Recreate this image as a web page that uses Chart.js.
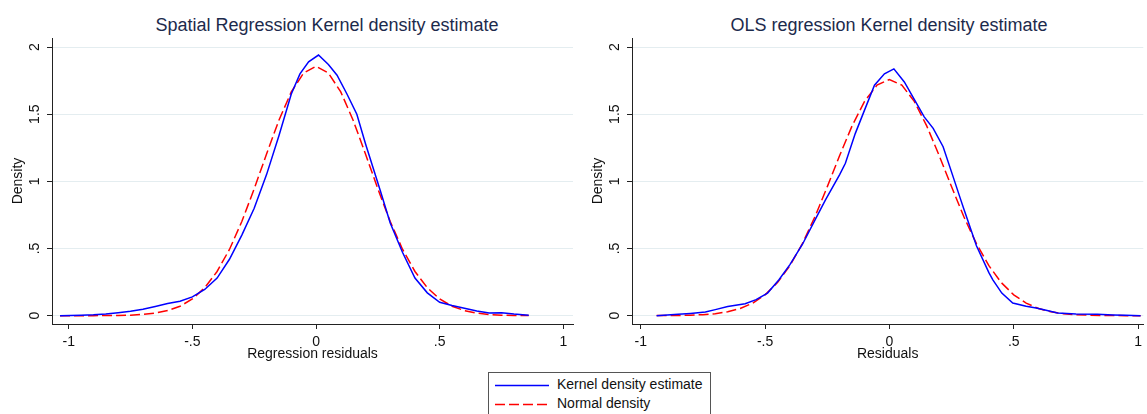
<!DOCTYPE html>
<html>
<head>
<meta charset="utf-8">
<script src="https://cdn.jsdelivr.net/npm/chart.js@4.4.0/dist/chart.umd.min.js"></script>
<style>
  body { margin: 0; background: #fff; width: 1147px; height: 414px; overflow: hidden; position: relative;
         font-family: "Liberation Sans", Arial, sans-serif; }
  canvas { position: absolute; top: 0; }
  #chartLeft { left: 0; }
  #chartRight { left: 580px; }
  .title { position: absolute; top: 15px; font-size: 18px; color: #1c2a4c; white-space: nowrap; transform: translateX(-50%); }
  #legend { position: absolute; left: 488px; top: 372px; width: 223px; height: 60px; border: 1px solid #555; box-sizing: border-box; }
  #legend svg { position: absolute; left: 0; top: 0; }
  #legend span { position: absolute; left: 68px; font-size: 14px; color: #111; white-space: nowrap; }
</style>
</head>
<body>
<div class="title" style="left:327px">Spatial Regression Kernel density estimate</div>
<div class="title" style="left:889px">OLS regression Kernel density estimate</div>
<canvas id="chartLeft" width="580" height="366"></canvas>
<canvas id="chartRight" width="567" height="366"></canvas>
<div id="legend">
  <svg width="223" height="60">
    <line x1="6" y1="12.5" x2="60" y2="12.5" stroke="#0000ff" stroke-width="1.5"/>
    <line x1="6" y1="31.5" x2="60" y2="31.5" stroke="#ff0000" stroke-width="1.5" stroke-dasharray="10 4"/>
  </svg>
  <span style="top:3px">Kernel density estimate</span>
  <span style="top:22px">Normal density</span>
</div>
<script>
// axis ticks (Stata style labels)
const xTickVals = [-1, -0.5, 0, 0.5, 1];
const xTickLabels = ['-1', '-.5', '0', '.5', '1'];
const yTickVals = [0, 0.5, 1, 1.5, 2];
const yTickLabels = ['0', '.5', '1', '1.5', '2'];

// Spatial regression residuals: kernel density estimate
const kdeLeftX = [-1.035, -0.95, -0.9, -0.85, -0.8, -0.75, -0.7, -0.65, -0.6, -0.55, -0.5, -0.45, -0.4, -0.35,
  -0.3, -0.25, -0.2, -0.15, -0.1, -0.065, -0.03, 0.01, 0.05, 0.085, 0.125, 0.165, 0.2, 0.26, 0.3, 0.35,
  0.4, 0.45, 0.5, 0.55, 0.6, 0.65, 0.7, 0.75, 0.8, 0.86];
const kdeLeftY = [0.0, 0.003, 0.006, 0.012, 0.022, 0.033, 0.048, 0.068, 0.09, 0.108, 0.14, 0.195, 0.28, 0.42,
  0.6, 0.8, 1.05, 1.34, 1.65, 1.80, 1.89, 1.94, 1.87, 1.79, 1.65, 1.5, 1.28, 0.93, 0.69, 0.47,
  0.28, 0.17, 0.1, 0.075, 0.055, 0.035, 0.02, 0.022, 0.012, 0.003];
// Spatial regression residuals: normal density
const normLeftX = [-1.035, -0.95, -0.9, -0.85, -0.8, -0.75, -0.7, -0.65, -0.6, -0.55, -0.5, -0.45, -0.4, -0.35,
  -0.3, -0.25, -0.2, -0.15, -0.1, -0.05, 0, 0.05, 0.1, 0.15, 0.2, 0.25, 0.3, 0.35, 0.4, 0.45, 0.5, 0.55,
  0.6, 0.65, 0.7, 0.75, 0.8, 0.86];
const normLeftY = [0.0, 0.0001, 0.0003, 0.0008, 0.002, 0.004, 0.009, 0.019, 0.038, 0.07, 0.124, 0.208, 0.329, 0.493,
  0.701, 0.944, 1.204, 1.455, 1.666, 1.806, 1.856, 1.806, 1.666, 1.455, 1.204, 0.944, 0.701, 0.493, 0.329, 0.208, 0.124, 0.07,
  0.038, 0.019, 0.009, 0.004, 0.002, 0.0007];

// OLS residuals: kernel density estimate
const kdeRightX = [-0.936, -0.85, -0.8, -0.74, -0.7, -0.65, -0.58, -0.536, -0.49, -0.444, -0.4, -0.35, -0.3, -0.257,
  -0.2, -0.177, -0.137, -0.1, -0.06, -0.02, 0.018, 0.06, 0.1, 0.14, 0.176, 0.216, 0.256, 0.287, 0.3, 0.35,
  0.4, 0.416, 0.452, 0.496, 0.55, 0.59, 0.63, 0.676, 0.75, 0.836, 0.9, 0.95, 1.01];
const kdeRightY = [0.0, 0.01, 0.017, 0.027, 0.045, 0.069, 0.089, 0.119, 0.168, 0.267, 0.38, 0.53, 0.71, 0.862,
  1.05, 1.134, 1.357, 1.53, 1.716, 1.80, 1.837, 1.74, 1.61, 1.48, 1.394, 1.258, 1.035, 0.862, 0.79, 0.52,
  0.32, 0.267, 0.168, 0.094, 0.07, 0.057, 0.04, 0.02, 0.013, 0.01, 0.005, 0.003, 0.0];
// OLS residuals: normal density
const normRightX = [-0.936, -0.9, -0.85, -0.8, -0.75, -0.7, -0.65, -0.6, -0.55, -0.5, -0.45, -0.4, -0.35, -0.3,
  -0.25, -0.2, -0.15, -0.1, -0.05, 0, 0.05, 0.1, 0.15, 0.2, 0.25, 0.3, 0.35, 0.4, 0.45, 0.5, 0.55, 0.6,
  0.65, 0.7, 0.75, 0.8, 0.85, 0.9, 0.95, 1.01];
const normRightY = [0.0004, 0.0007, 0.0016, 0.0035, 0.0075, 0.015, 0.029, 0.053, 0.093, 0.155, 0.246, 0.372, 0.536, 0.734,
  0.959, 1.192, 1.413, 1.595, 1.716, 1.758, 1.716, 1.595, 1.413, 1.192, 0.959, 0.734, 0.536, 0.372, 0.246, 0.155, 0.093, 0.053,
  0.029, 0.015, 0.0075, 0.0035, 0.0016, 0.0007, 0.0003, 0.0001];

const fontFamily = '"Liberation Sans", Arial, sans-serif';
const axisColor = '#222';

// Stata draws the y tick labels turned on their side
const rotatedYLabels = {
  id: 'rotatedYLabels',
  afterDraw(chart) {
    const ctx = chart.ctx;
    const yScale = chart.scales.y;
    ctx.save();
    ctx.font = '14px ' + fontFamily;
    ctx.fillStyle = '#111';
    ctx.textAlign = 'center';
    ctx.textBaseline = 'middle';
    yTickVals.forEach((v, i) => {
      ctx.save();
      ctx.translate(35, yScale.getPixelForValue(v));
      ctx.rotate(-Math.PI / 2);
      ctx.fillText(yTickLabels[i], 0, 0);
      ctx.restore();
    });
    ctx.restore();
  }
};

function toPoints(xs, ys) {
  return xs.map((x, i) => ({ x: x, y: ys[i] }));
}

function drawPanel(id, kdeX, kdeY, normX, normY, xMin, xMax, xTitle, padRight) {
  new Chart(document.getElementById(id), {
    type: 'line',
    data: {
      datasets: [
        { label: 'Kernel density estimate', data: toPoints(kdeX, kdeY), borderColor: '#0000ff',
          borderWidth: 1.5, pointRadius: 0, tension: 0, fill: false },
        { label: 'Normal density', data: toPoints(normX, normY), borderColor: '#ff0000',
          borderWidth: 1.5, borderDash: [10, 4], pointRadius: 0, tension: 0, fill: false }
      ]
    },
    options: {
      responsive: false,
      animation: false,
      devicePixelRatio: 1,
      layout: { padding: { top: 38, right: padRight, bottom: 3, left: 0 } },
      plugins: { legend: { display: false }, tooltip: { enabled: false } },
      scales: {
        x: {
          type: 'linear', min: xMin, max: xMax,
          afterBuildTicks: (s) => { s.ticks = xTickVals.map(v => ({ value: v })); },
          afterFit: (s) => { s.height = 39; },
          grid: { drawOnChartArea: false, tickLength: 5, tickColor: axisColor },
          border: { color: axisColor, width: 1 },
          ticks: { padding: 5, color: '#111', font: { family: fontFamily, size: 14 }, maxRotation: 0,
                   callback: (v) => xTickLabels[xTickVals.indexOf(v)] },
          title: { display: true, text: xTitle, color: '#111', font: { family: fontFamily, size: 14 },
                   padding: { top: 0, bottom: 0 } }
        },
        y: {
          min: -0.062, max: 2.067,
          afterBuildTicks: (s) => { s.ticks = yTickVals.map(v => ({ value: v })); },
          afterFit: (s) => { s.width = 52; },
          grid: { color: '#e4edf0', tickLength: 5, tickColor: axisColor },
          border: { color: axisColor, width: 1 },
          ticks: { display: false },
          title: { display: true, text: 'Density', color: '#111', font: { family: fontFamily, size: 14 },
                   padding: { top: 10, bottom: 0 } }
        }
      }
    },
    plugins: [rotatedYLabels]
  });
}

drawPanel('chartLeft', kdeLeftX, kdeLeftY, normLeftX, normLeftY, -1.0675, 1.039, 'Regression residuals', 7);
drawPanel('chartRight', kdeRightX, kdeRightY, normRightX, normRightY, -1.035, 1.021, 'Residuals', 1);
</script>
</body>
</html>
